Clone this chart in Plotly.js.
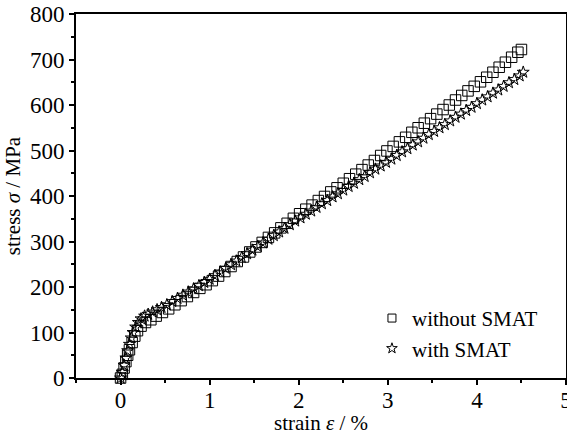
<!DOCTYPE html>
<html>
<head>
<meta charset="utf-8">
<script src="https://cdn.plot.ly/plotly-3.0.1.min.js"></script>
<style>html,body{margin:0;padding:0;background:#fff;}#chart{width:567px;height:435px;}</style>
</head>
<body>
<div id="chart"></div>
<script>
// without SMAT (open squares)
const strainWithout = [0.00,0.02,0.04,0.06,0.08,0.10,0.13,0.16,0.19,0.23,0.28,0.34,0.40,0.47,0.54,0.61,0.68,0.75,0.82,0.89,0.96,1.03,1.10,1.17,1.24,1.31,1.38,1.45,1.52,1.59,1.66,1.73,1.80,1.87,1.94,2.01,2.08,2.15,2.22,2.29,2.36,2.43,2.50,2.57,2.64,2.71,2.78,2.85,2.92,2.99,3.06,3.13,3.20,3.27,3.34,3.41,3.48,3.55,3.62,3.69,3.76,3.83,3.90,3.97,4.04,4.11,4.18,4.25,4.32,4.39,4.46,4.50];
const stressWithout = [0,8,22,36,50,62,78,92,104,114,122,128,136,144,152,161,170,179,188,197,205,214,224,234,245,256,266,277,288,298,309,319,330,340,351,361,371,380,390,399,409,418,428,438,448,458,468,478,489,499,509,519,529,540,550,560,570,580,590,600,611,621,631,641,651,661,672,683,694,705,716,722];

// with SMAT (open stars)
const strainWith = [0.00,0.02,0.04,0.06,0.08,0.10,0.12,0.14,0.17,0.20,0.23,0.27,0.31,0.36,0.41,0.46,0.52,0.58,0.64,0.70,0.76,0.82,0.88,0.94,1.00,1.06,1.12,1.18,1.24,1.30,1.36,1.42,1.48,1.54,1.60,1.66,1.72,1.78,1.84,1.90,1.96,2.02,2.08,2.14,2.20,2.26,2.32,2.38,2.44,2.50,2.56,2.62,2.68,2.74,2.80,2.86,2.92,2.98,3.04,3.10,3.16,3.22,3.28,3.34,3.40,3.46,3.52,3.58,3.64,3.70,3.76,3.82,3.88,3.94,4.00,4.06,4.12,4.18,4.24,4.30,4.36,4.42,4.48,4.52];
const stressWith = [0,12,28,44,60,74,88,100,112,122,130,136,140,145,150,155,161,168,175,182,189,196,203,210,217,225,233,241,249,257,265,273,281,289,297,305,313,321,329,337,345,352,360,367,375,383,390,398,405,413,421,428,436,443,451,459,466,474,481,489,497,504,512,519,527,535,542,550,557,565,573,580,588,595,603,611,618,626,633,641,649,656,664,672];

const seriesNames = ["without SMAT", "with SMAT"];
const xTickVals = [0,1,2,3,4,5];
const yTickVals = [0,100,200,300,400,500,600,700,800];

const FONT = "'Liberation Serif', 'Times New Roman', serif";

const traces = [
  {x: strainWithout, y: stressWithout, mode: "markers", type: "scatter", showlegend: false, cliponaxis: false,
   marker: {symbol: "square-open", size: 10.5, color: "#000", line: {width: 1, color: "#000"}}},
  {x: strainWith, y: stressWith, mode: "markers", type: "scatter", showlegend: false, cliponaxis: false,
   marker: {symbol: "star-open", size: 9, color: "#000", line: {width: 1, color: "#000"}}},
  {x: [null], y: [null], mode: "markers", type: "scatter", name: seriesNames[0],
   marker: {symbol: "square-open", size: 8, color: "#000", line: {width: 1, color: "#000"}}},
  {x: [null], y: [null], mode: "markers", type: "scatter", name: seriesNames[1],
   marker: {symbol: "star-open", size: 8, color: "#000", line: {width: 1, color: "#000"}}}
];

const layout = {
  width: 567, height: 435,
  margin: {l: 76, r: 1, t: 14, b: 57},
  paper_bgcolor: "#fff", plot_bgcolor: "#fff",
  font: {family: FONT, size: 20, color: "#000"},
  showlegend: true,
  legend: {x: 0.604, y: 0.025, xanchor: "left", yanchor: "bottom",
           bgcolor: "rgba(0,0,0,0)", font: {family: FONT, size: 21, color: "#000"},
           tracegroupgap: 0},
  xaxis: {
    range: [-0.5, 5], tickvals: xTickVals, ticktext: xTickVals.map(String),
    showgrid: false, zeroline: false, showline: true, mirror: true,
    linecolor: "#000", linewidth: 2,
    ticks: "outside", ticklen: 5, tickwidth: 2, tickcolor: "#000",
    ticklabeloverflow: "allow", ticklabelstandoff: -5,
    minor: {dtick: 0.5, tick0: 0, ticks: "outside", ticklen: 3, tickwidth: 2, tickcolor: "#000"},
    tickfont: {family: FONT, size: 23, color: "#000"},
    title: {text: "strain <i>ε</i> / %", font: {family: FONT, size: 21, color: "#000"}, standoff: 2}
  },
  yaxis: {
    range: [0, 800], tickvals: yTickVals, ticktext: yTickVals.map(String),
    showgrid: false, zeroline: false, showline: true, mirror: true,
    linecolor: "#000", linewidth: 2,
    ticks: "outside", ticklen: 5, tickwidth: 2, tickcolor: "#000",
    minor: {dtick: 50, tick0: 0, ticks: "outside", ticklen: 3, tickwidth: 2, tickcolor: "#000"},
    tickfont: {family: FONT, size: 23, color: "#000"},
    title: {text: "stress <i>σ</i> / MPa", font: {family: FONT, size: 21, color: "#000"}, standoff: 4}
  }
};

Plotly.newPlot("chart", traces, layout, {displayModeBar: false, staticPlot: true});
</script>
</body>
</html>
